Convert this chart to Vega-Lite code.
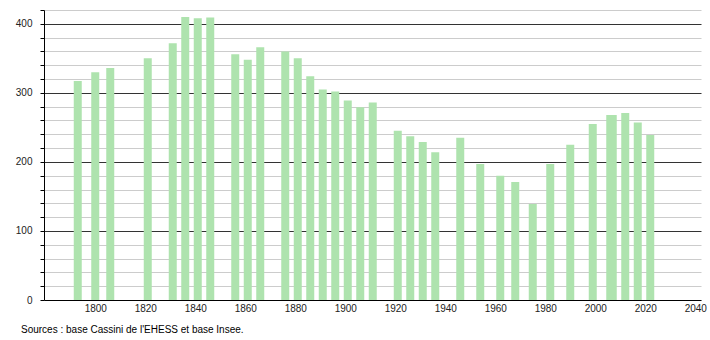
{
  "$schema": "https://vega.github.io/schema/vega-lite/v6.json",
  "width": 657,
  "height": 290,
  "autosize": "none",
  "padding": {"left": 44, "top": 10, "right": 9, "bottom": 40},
  "background": "white",
  "config": {"view": {"stroke": null}, "font": "Liberation Sans"},
  "title": {
    "text": "Sources : base Cassini de l'EHESS et base Insee.",
    "orient": "bottom",
    "anchor": "start",
    "frame": "group",
    "dx": -23,
    "offset": 12,
    "fontSize": 10,
    "fontWeight": "normal",
    "color": "#000000"
  },
  "data": {
    "values": [
      {"annee": 1793, "population": 317},
      {"annee": 1800, "population": 330},
      {"annee": 1806, "population": 336},
      {"annee": 1821, "population": 350},
      {"annee": 1831, "population": 372},
      {"annee": 1836, "population": 410},
      {"annee": 1841, "population": 408},
      {"annee": 1846, "population": 409},
      {"annee": 1856, "population": 356},
      {"annee": 1861, "population": 348},
      {"annee": 1866, "population": 366},
      {"annee": 1876, "population": 360},
      {"annee": 1881, "population": 350},
      {"annee": 1886, "population": 324},
      {"annee": 1891, "population": 305},
      {"annee": 1896, "population": 302},
      {"annee": 1901, "population": 289},
      {"annee": 1906, "population": 279},
      {"annee": 1911, "population": 286},
      {"annee": 1921, "population": 245},
      {"annee": 1926, "population": 237},
      {"annee": 1931, "population": 229},
      {"annee": 1936, "population": 214},
      {"annee": 1946, "population": 235},
      {"annee": 1954, "population": 197},
      {"annee": 1962, "population": 180},
      {"annee": 1968, "population": 171},
      {"annee": 1975, "population": 139},
      {"annee": 1982, "population": 197},
      {"annee": 1990, "population": 225},
      {"annee": 1999, "population": 255},
      {"annee": 2006, "population": 268},
      {"annee": 2007, "population": 268},
      {"annee": 2012, "population": 271},
      {"annee": 2017, "population": 257},
      {"annee": 2022, "population": 239}
    ]
  },
  "mark": {"type": "bar", "width": 8, "color": "#aee3ae"},
  "encoding": {
    "x": {
      "field": "annee",
      "type": "quantitative",
      "scale": {"domain": [1779.5, 2042.3], "nice": false, "zero": false, "padding": 0},
      "axis": {
        "title": null,
        "values": [1800, 1820, 1840, 1860, 1880, 1900, 1920, 1940, 1960, 1980, 2000, 2020, 2040],
        "format": "d",
        "grid": false,
        "ticks": false,
        "labelPadding": 3,
        "labelFontSize": 10,
        "labelColor": "#222222",
        "domainColor": "#000000",
        "domainWidth": 1
      }
    },
    "y": {
      "field": "population",
      "type": "quantitative",
      "scale": {"domain": [0, 420], "nice": false},
      "axis": {
        "title": null,
        "values": [0, 20, 40, 60, 80, 100, 120, 140, 160, 180, 200, 220, 240, 260, 280, 300, 320, 340, 360, 380, 400, 420],
        "labelExpr": "datum.value % 100 === 0 ? datum.label : ''",
        "grid": true,
        "gridColor": {"condition": {"test": "datum.value % 100 === 0 && datum.value > 0", "value": "#333333"}, "value": "#cccccc"},
        "gridWidth": 1,
        "tickSize": 4,
        "tickColor": "#000000",
        "labelPadding": 8,
        "labelFontSize": 10,
        "labelColor": "#222222",
        "domainColor": "#000000",
        "domainWidth": 1
      }
    }
  }
}
